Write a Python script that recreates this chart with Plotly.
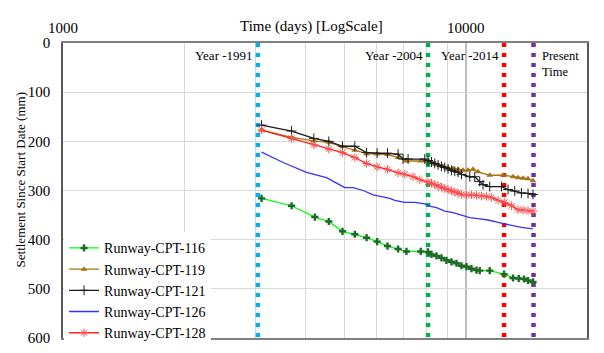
import math
import plotly.graph_objects as go

# ---------------- data ----------------
x116 = [3112, 3694, 4220, 4571, 4943, 5303, 5672, 6025, 6393, 6792, 7125, 7731, 8061, 8222, 8459, 8702,
        8955, 9216, 9483, 9757, 10040, 10331, 10630, 10832, 11469, 12448, 13105, 13537, 13954, 14276, 14689]
y116 = [316, 331, 354, 363, 383, 389, 396, 404, 413, 419, 424, 424, 425, 430, 433, 437,
        442, 445, 448, 453, 455, 459, 462, 463, 463, 470, 478, 479, 480, 483, 486]

x119 = [3112, 3694, 4196, 4571, 4943, 5303, 5672, 6025, 6393, 6792, 7125, 7731, 8061, 8377, 8782,
        9037, 9300, 9569, 9847, 10132, 10426, 10727, 11469, 12377, 13105, 13483, 13874, 14276, 14689]
y119 = [177, 192, 199, 202, 211, 218, 225, 226, 227, 233, 240, 240, 241, 246, 251,
        254, 255, 257, 259, 259, 257, 262, 269, 269, 272, 274, 275, 276, 280]

x121 = [3112, 3694, 4196, 4571, 4943, 5303, 5672, 6025, 6393, 6792, 6988, 7191, 7911, 8061, 8222,
        8377, 8535, 8702, 8868, 9037, 9216, 9391, 9569, 9757, 10231, 10527, 10832, 11038, 11469,
        12264, 12736, 13233, 13747, 14276, 14689]
y121 = [167, 179, 194, 200, 210, 210, 223, 224, 224, 226, 236, 236, 236, 239, 242,
        245, 248, 251, 253, 256, 259, 261, 263, 267, 272, 272, 282, 288, 292,
        292, 298, 301, 305, 306, 308]

x126 = [3112, 3521, 4025, 4261, 4511, 4777, 5009, 5252, 5563, 5889, 6235, 6477, 6665, 7056, 7470,
        7911, 8222, 8459, 8868, 9300, 9757, 10231, 10727, 11358, 12028, 12498, 12986, 13747, 14689]
y126 = [222, 243, 263, 269, 274, 285, 294, 294, 300, 309, 313, 316, 320, 324, 324,
        327, 333, 335, 342, 345, 350, 355, 357, 360, 365, 368, 372, 375, 378]

x128 = [3112, 3694, 4196, 4571, 4943, 5303, 5672, 6025, 6393, 6792, 7056, 7398, 7687, 8061, 8222,
        8377, 8535, 8702, 8868, 9037, 9216, 9391, 9569, 9757, 10040, 10331, 10630, 10938, 11258,
        11581, 12028, 12498, 12986, 13483, 13874, 14276, 14689]
y128 = [177, 194, 207, 216, 223, 233, 245, 252, 257, 264, 267, 272, 278, 283, 285,
        288, 291, 293, 296, 298, 301, 303, 305, 308, 309, 309, 310, 311, 312,
        314, 320, 324, 331, 339, 340, 341, 342]

event_days = [3047, 8061, 12448, 14732]
event_colors = ["#00B0F0", "#00B050", "#FF0000", "#7030A0"]
event_labels = ["Year -1991", "Year -2004", "Year -2014", "Present<br>Time"]
event_sides = ["left", "left", "left", "right"]

x_major = [1000, 10000]
x_minor = [2000, 3000, 4000, 5000, 6000, 7000, 8000, 9000]
y_ticks = [0, 100, 200, 300, 400, 500, 600]

FONT = "Liberation Serif"

fig = go.Figure()

# vertical event lines
for d, c in zip(event_days, event_colors):
    fig.add_trace(go.Scatter(x=[d, d], y=[0, 600], mode="lines", showlegend=False, hoverinfo="skip",
                             line=dict(color=c, width=4.5, dash="4px,6px")))

series = [
    ("Runway-CPT-116", x116, y116, "#00FF00", dict(symbol="cross", size=6, color="#1B6B26")),
    ("Runway-CPT-119", x119, y119, "#A87212", dict(symbol="triangle-up", size=6, color="#A87212")),
    ("Runway-CPT-121", x121, y121, "#1A1A1A", dict(symbol="cross-thin-open", size=7, color="#1A1A1A",
                                                   line=dict(width=1, color="#1A1A1A"))),
    ("Runway-CPT-126", x126, y126, "#3333FF", None),
    ("Runway-CPT-128", x128, y128, "#FF2020", dict(symbol="asterisk-open", size=7, color="#FF5050",
                                                   line=dict(width=1, color="#FF5050"))),
]
for name, xs, ys, col, mk in series:
    if mk is None:
        fig.add_trace(go.Scatter(x=xs, y=ys, name=name, mode="lines", line=dict(color=col, width=1.3)))
    else:
        fig.add_trace(go.Scatter(x=xs, y=ys, name=name, mode="lines+markers",
                                 line=dict(color=col, width=1.3), marker=mk))

# event labels
for d, lab, side in zip(event_days, event_labels, event_sides):
    if side == "left":
        fig.add_annotation(x=math.log10(d), y=26, xref="x", yref="y", text=lab, showarrow=False,
                           xanchor="right", yanchor="middle", xshift=-3,
                           font=dict(family=FONT, size=13, color="black"))
    else:
        fig.add_annotation(x=math.log10(d), y=8, xref="x", yref="y", text=lab, showarrow=False,
                           xanchor="left", yanchor="top", xshift=6, align="left",
                           font=dict(family=FONT, size=12.5, color="black"))

# top x-axis title on the tick-label row
fig.add_annotation(x=0.475, y=1.0, xref="paper", yref="paper", yshift=17, text="Time (days) [LogScale]",
                   showarrow=False, xanchor="center", yanchor="middle",
                   font=dict(family=FONT, size=15, color="black"))

# y-axis title
fig.add_annotation(x=0, y=0.534, xref="paper", yref="paper", xshift=-43, textangle=-90,
                   text="Settlement Since Start Date (mm)", showarrow=False,
                   xanchor="center", yanchor="middle",
                   font=dict(family=FONT, size=13, color="black"))

fig.update_layout(
    width=604, height=353,
    margin=dict(l=63, r=17, t=43, b=5),
    paper_bgcolor="white", plot_bgcolor="white",
    font=dict(family=FONT, size=14, color="black"),
    xaxis=dict(type="log", range=[3, math.log10(20000)], side="top",
               tickmode="array", tickvals=x_major, ticktext=[str(v) for v in x_major],
               showgrid=True, gridcolor="#BFBFBF", gridwidth=1.5,
               minor=dict(tickmode="array", tickvals=x_minor, showgrid=True, gridcolor="#D9D9D9",
                          gridwidth=1),
               showline=True, linecolor="#808080", linewidth=1.5, mirror=True,
               ticks="", ticklabelstandoff=2, ticklabeloverflow="allow",
               tickfont=dict(family=FONT, size=15, color="black"), zeroline=False),
    yaxis=dict(range=[600, 0], tickmode="array", tickvals=y_ticks,
               showgrid=True, gridcolor="#D9D9D9", gridwidth=1,
               showline=True, linecolor="#595959", linewidth=1.5, mirror=True,
               ticks="", ticklabelstandoff=8, zeroline=False, ticklabeloverflow="allow",
               tickfont=dict(family=FONT, size=15, color="black")),
    legend=dict(x=0.002, y=-0.035, xanchor="left", yanchor="bottom", bgcolor="white",
                borderwidth=0, itemwidth=30, tracegroupgap=0,
                font=dict(family=FONT, size=14, color="black")),
    showlegend=True,
)

fig.write_html("out.html")
